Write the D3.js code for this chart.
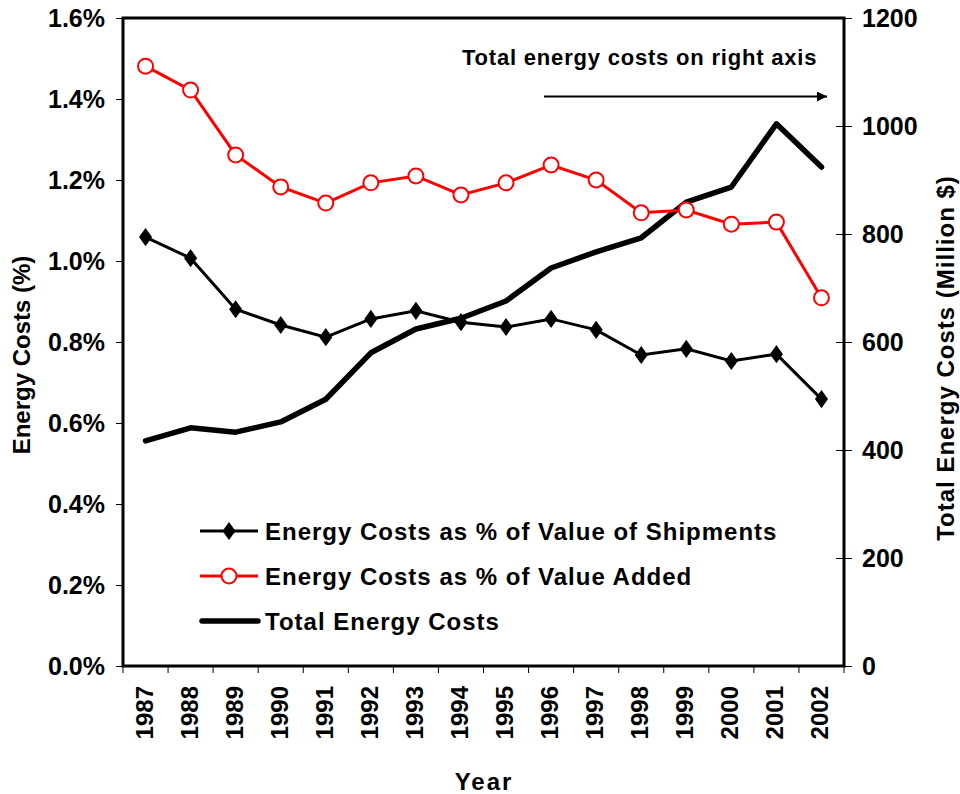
<!DOCTYPE html>
<html>
<head>
<meta charset="utf-8">
<script src="https://cdn.jsdelivr.net/npm/d3@7"></script>
<style>
  body { margin: 0; background: #fff; }
  svg { font-family: "Liberation Sans", Arial, sans-serif; font-weight: bold; }
</style>
</head>
<body>
<svg width="960" height="794"></svg>
<script>
const years = ["1987","1988","1989","1990","1991","1992","1993","1994","1995","1996","1997","1998","1999","2000","2001","2002"]
const pctShipments = [1.059,1.007,0.881,0.842,0.812,0.857,0.877,0.849,0.837,0.857,0.830,0.768,0.783,0.753,0.770,0.659]
const pctValueAdded = [1.481,1.422,1.262,1.183,1.143,1.193,1.210,1.163,1.193,1.237,1.200,1.119,1.126,1.091,1.096,0.909]
const totalCosts = [417,441,433,452,494,580,624,644,676,737,767,793,859,887,1004,924]
const leftTicks = [0,0.2,0.4,0.6,0.8,1.0,1.2,1.4,1.6]
const rightTicks = [0,200,400,600,800,1000,1200]
const legendNames = ["Energy Costs as % of Value of Shipments", "Energy Costs as % of Value Added", "Total Energy Costs"]

const margin = { top: 18, right: 116, bottom: 128, left: 123 }
const width = 960, height = 794
const plotW = width - margin.left - margin.right,
    plotH = height - margin.top - margin.bottom

const svg = d3.select('svg')
const chart = svg.append('g').attr("transform", `translate(${margin.left}, ${margin.top})`)

const x = d3.scaleBand().domain(years).range([0, plotW])
const yL = d3.scaleLinear().domain([0, 1.6]).range([plotH, 0])
const yR = d3.scaleLinear().domain([0, 1200]).range([plotH, 0])
const cx = d => x(d) + x.bandwidth() / 2

// category boundary ticks + rotated year labels
chart.append("g").selectAll("line")
    .data(d3.range(years.length + 1))
    .join("line")
    .attr("x1", i => i * x.step()).attr("x2", i => i * x.step())
    .attr("y1", plotH).attr("y2", plotH + 7)
    .attr("stroke", "#000").attr("stroke-width", 1)
chart.append("g").selectAll("text")
    .data(years)
    .join("text")
    .attr("transform", d => `translate(${cx(d) + 7}, ${plotH + 20}) rotate(-90)`)
    .attr("text-anchor", "end")
    .attr("font-size", 24)
    .text(d => d)

const yAxisL = chart.append("g")
    .call(d3.axisLeft(yL).tickValues(leftTicks).tickSize(7).tickPadding(11).tickFormat(d => d.toFixed(1) + "%"))
yAxisL.select(".domain").remove()
yAxisL.selectAll("text").attr("font-size", 25).attr("font-family", "Liberation Sans").attr("font-weight", "bold")

const yAxisR = chart.append("g").attr("transform", `translate(${plotW}, 0)`)
    .call(d3.axisRight(yR).tickValues(rightTicks).tickSize(8).tickPadding(10).tickFormat(d3.format("d")))
yAxisR.select(".domain").remove()
yAxisR.selectAll(".tick line").attr("x1", -8)
yAxisR.selectAll("text").attr("font-size", 25).attr("font-family", "Liberation Sans").attr("font-weight", "bold")

// Plot frame
chart.append("rect").attr("x", 0).attr("y", 0).attr("width", plotW).attr("height", plotH)
    .attr("fill", "none").attr("stroke", "#000").attr("stroke-width", 3)

// Axis titles
svg.append("text").attr("transform", `translate(30, ${margin.top + plotH / 2 + 13}) rotate(-90)`)
    .attr("text-anchor", "middle").attr("font-size", 24).text("Energy Costs (%)")
svg.append("text").attr("transform", `translate(954, ${margin.top + plotH / 2 + 16}) rotate(-90)`)
    .attr("text-anchor", "middle").attr("font-size", 24).attr("letter-spacing", 1).text("Total Energy Costs (Million $)")
svg.append("text").attr("x", 484).attr("y", 790)
    .attr("text-anchor", "middle").attr("font-size", 24).attr("letter-spacing", 2).text("Year")

// Lines
const lineL = d3.line().x((d, i) => cx(years[i])).y(d => yL(d))
const lineR = d3.line().x((d, i) => cx(years[i])).y(d => yR(d))

chart.append("path").datum(totalCosts).attr("d", lineR)
    .attr("fill", "none").attr("stroke", "#000").attr("stroke-width", 5.5).attr("stroke-linejoin", "round").attr("stroke-linecap", "round")

chart.append("path").datum(pctShipments).attr("d", lineL)
    .attr("fill", "none").attr("stroke", "#000").attr("stroke-width", 3)
const diamond = d3.symbol().type(d3.symbolDiamond).size(95)
chart.append("g").selectAll("path")
    .data(pctShipments)
    .join("path")
    .attr("transform", (d, i) => `translate(${cx(years[i])}, ${yL(d)}) scale(1.25, 1)`)
    .attr("d", diamond)
    .attr("fill", "#000")

chart.append("path").datum(pctValueAdded).attr("d", lineL)
    .attr("fill", "none").attr("stroke", "#ff0000").attr("stroke-width", 3)
chart.append("g").selectAll("circle")
    .data(pctValueAdded)
    .join("circle")
    .attr("cx", (d, i) => cx(years[i])).attr("cy", d => yL(d)).attr("r", 7.5)
    .attr("fill", "#fff").attr("stroke", "#ff0000").attr("stroke-width", 2)

// Annotation
svg.append("text").attr("x", 462).attr("y", 65).attr("font-size", 22).attr("letter-spacing", 0.8)
    .text("Total energy costs on right axis")
svg.append("defs").append("marker").attr("id", "arrow")
    .attr("viewBox", "0 0 10 10").attr("refX", 10).attr("refY", 5)
    .attr("markerWidth", 5).attr("markerHeight", 5).attr("orient", "auto")
    .append("path").attr("d", "M0,0 L10,5 L0,10 Z").attr("fill", "#000")
svg.append("line").attr("x1", 544).attr("x2", 827).attr("y1", 96.5).attr("y2", 96.5)
    .attr("stroke", "#000").attr("stroke-width", 2).attr("marker-end", "url(#arrow)")

// Legend
const legend = svg.append("g").attr("transform", "translate(200, 531)")
const rows = legend.selectAll("g").data(legendNames).join("g")
    .attr("transform", (d, i) => `translate(0, ${i * 45})`)
rows.append("text").attr("x", 65).attr("y", 9).attr("font-size", 24).attr("letter-spacing", 1).text(d => d)
rows.filter((d, i) => i === 0).call(g => {
    g.append("line").attr("x1", 0).attr("x2", 58).attr("stroke", "#000").attr("stroke-width", 3)
    g.append("path").attr("d", diamond).attr("transform", "translate(29, 0) scale(1.25, 1)").attr("fill", "#000")
})
rows.filter((d, i) => i === 1).call(g => {
    g.append("line").attr("x1", 0).attr("x2", 58).attr("stroke", "#ff0000").attr("stroke-width", 3)
    g.append("circle").attr("cx", 29).attr("r", 7.5).attr("fill", "#fff").attr("stroke", "#ff0000").attr("stroke-width", 2)
})
rows.filter((d, i) => i === 2).call(g => {
    g.append("line").attr("x1", 2).attr("x2", 58).attr("stroke", "#000").attr("stroke-width", 5.5).attr("stroke-linecap", "round")
})
</script>
</body>
</html>
